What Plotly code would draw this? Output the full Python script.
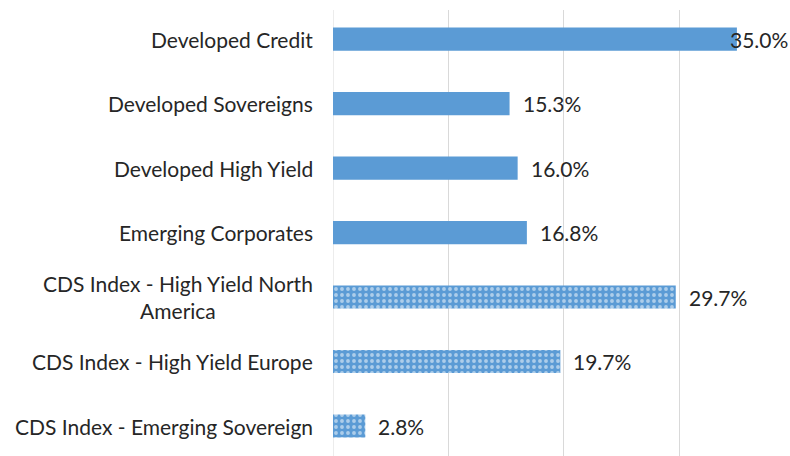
import plotly.graph_objects as go

categories = [
    "Developed Credit",
    "Developed Sovereigns",
    "Developed High Yield",
    "Emerging Corporates",
    "CDS Index - High Yield North<br>America",
    "CDS Index - High Yield Europe",
    "CDS Index - Emerging Sovereign",
]
values = [35.0, 15.3, 16.0, 16.8, 29.7, 19.7, 2.8]
patterned = [False, False, False, False, True, True, True]
value_labels = [f"{v:.1f}%" for v in values]

BLUE = "#5B9BD5"
TEXT = "#262626"
FONT = "Lato, 'Open Sans', sans-serif"
X_MAX = 39.6

fig = go.Figure()
fig.add_trace(go.Bar(
    y=categories,
    x=values,
    orientation="h",
    width=0.36,
    marker=dict(
        color=BLUE,
        line=dict(width=0),
        pattern=dict(
            shape=["." if p else "" for p in patterned],
            fgcolor="white",
            size=6,
            solidity=0.32,
            fillmode="overlay",
        ),
    ),
    hoverinfo="skip",
))

annotations = []
for cat in categories:
    annotations.append(dict(
        x=0, y=cat, xref="x", yref="y",
        text=cat, showarrow=False,
        xanchor="right", yanchor="middle", align="center",
        xshift=-18,
        font=dict(family=FONT, size=21, color=TEXT),
    ))
for cat, v, lab in zip(categories, values, value_labels):
    fits = v + 5 < X_MAX
    annotations.append(dict(
        x=v if fits else X_MAX, y=cat, xref="x", yref="y",
        text=lab, showarrow=False,
        xanchor="left" if fits else "right", yanchor="middle",
        xshift=11 if fits else 0,
        font=dict(family=FONT, size=21, color=TEXT),
    ))

fig.update_layout(
    width=790, height=456,
    margin=dict(l=333, r=0, t=10, b=0),
    paper_bgcolor="white", plot_bgcolor="white",
    showlegend=False,
    annotations=annotations,
    xaxis=dict(
        range=[0, X_MAX], dtick=10, tick0=0,
        showgrid=True, gridcolor="#D9D9D9", gridwidth=1,
        zeroline=False, showticklabels=False, ticks="", showline=False,
    ),
    yaxis=dict(
        type="category",
        range=[6.465, -0.45],
        showticklabels=False, ticks="", showgrid=False, zeroline=False,
        showline=False,
    ),
)
fig.add_vline(x=0, line_color="#D9D9D9", line_width=1, layer="below")

fig.write_html(
    "out.html",
    config={"displayModeBar": False},
    post_script="document.body.style.margin='0';document.body.style.padding='0';",
)
